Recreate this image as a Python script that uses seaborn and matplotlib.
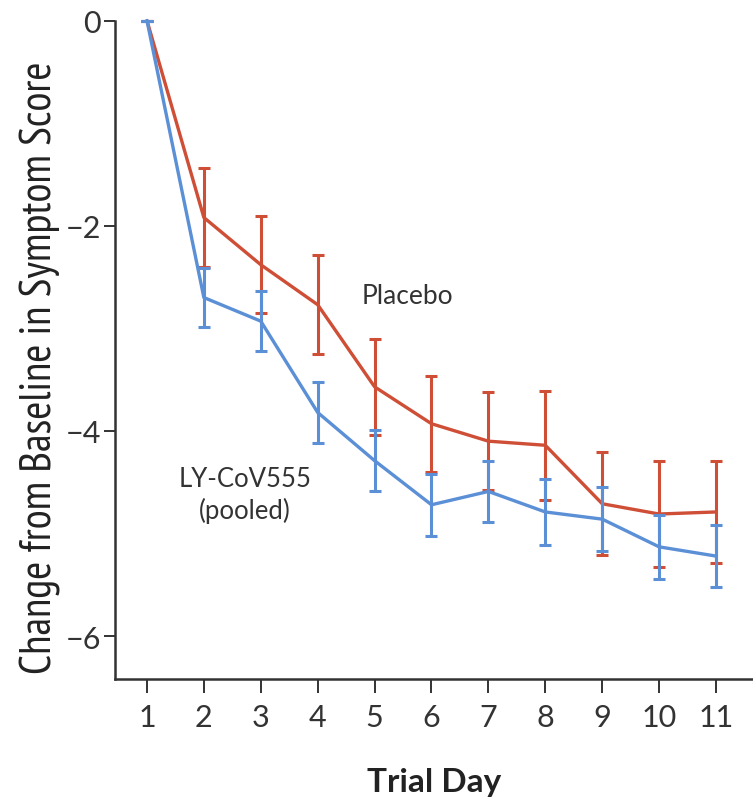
import matplotlib
matplotlib.use("Agg")
import matplotlib.pyplot as plt
import numpy as np
import pandas as pd
import seaborn as sns

days = [1, 2, 3, 4, 5, 6, 7, 8, 9, 10, 11]
placebo_mean = [0, -1.92, -2.38, -2.77, -3.57, -3.93, -4.10, -4.14, -4.71, -4.81, -4.79]
placebo_err = [0, 0.48, 0.47, 0.48, 0.47, 0.47, 0.48, 0.53, 0.50, 0.52, 0.50]
ly_mean = [0, -2.70, -2.93, -3.82, -4.29, -4.72, -4.59, -4.79, -4.86, -5.13, -5.22]
ly_err = [0, 0.29, 0.29, 0.30, 0.30, 0.30, 0.30, 0.32, 0.31, 0.31, 0.30]

RED = "#cf4e36"
BLUE = "#5b8fd6"
DARK = "#333333"

sns.set_style("white")
plt.rcParams["font.family"] = ["Lato", "DejaVu Sans"]

df = pd.DataFrame({
    "day": days * 2,
    "score": placebo_mean + ly_mean,
    "group": ["Placebo"] * len(days) + ["LY-CoV555 (pooled)"] * len(days),
})

fig = plt.figure(figsize=(7.53, 8.04), dpi=100)
ax = fig.add_axes([0.1527, 0.154, 0.8473, 0.846])

# placebo first, treatment on top
ax.errorbar(days, placebo_mean, yerr=placebo_err, fmt="none", ecolor=RED,
            elinewidth=2.2, capsize=4, capthick=2.2, zorder=2)
ax.errorbar(days, ly_mean, yerr=ly_err, fmt="none", ecolor=BLUE,
            elinewidth=2.2, capsize=4, capthick=2.2, zorder=4)
sns.lineplot(data=df, x="day", y="score", hue="group",
             hue_order=["Placebo", "LY-CoV555 (pooled)"],
             palette=[RED, BLUE], linewidth=2.4, legend=False, ax=ax, zorder=3)

ax.set_xlim(0.438, 11.65)
ax.set_ylim(-6.42, 0.21)
ax.set_xticks(days)
ax.set_yticks([0, -2, -4, -6])
ax.set_yticklabels(["0", "\u22122", "\u22124", "\u22126"])

for s in ["top", "right"]:
    ax.spines[s].set_visible(False)
ax.spines["left"].set_bounds(-6.42, 0)
for s in ["left", "bottom"]:
    ax.spines[s].set_color(DARK)
    ax.spines[s].set_linewidth(1.8)

ax.tick_params(axis="x", direction="out", length=10, width=1.4, color=DARK,
               pad=7, labelsize=22, labelcolor=DARK, bottom=True)
ax.tick_params(axis="y", direction="out", length=8, width=1.4, color=DARK,
               pad=2, labelsize=22, labelcolor=DARK, left=True)

ax.set_xlabel("Trial Day", fontsize=24, fontweight="bold", color="#222222", labelpad=26)
ax.set_ylabel("Change from Baseline in Symptom Score", fontsize=31.5, color="#222222",
              family=["PT Sans Narrow", "Asap Condensed", "DejaVu Sans"])
ax.yaxis.set_label_coords(-0.085, 0.46)

ax.text(4.78, -2.68, "Placebo", fontsize=19, color=DARK, ha="left", va="center")
ax.text(2.72, -4.62, "LY-CoV555\n(pooled)", fontsize=18.5, color=DARK,
        ha="center", va="center", linespacing=1.3)

fig.savefig("out.png", dpi=100)
